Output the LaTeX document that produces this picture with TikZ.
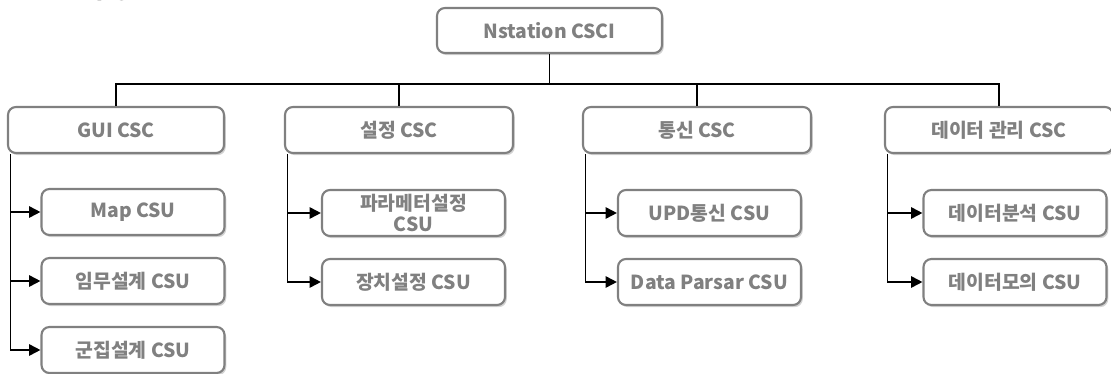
\documentclass[tikz,border=0pt]{standalone}
\usepackage{fontspec}
\setmainfont{Noto Sans CJK KR}
\usetikzlibrary{arrows.meta, shadows, calc}

\begin{document}
\begin{tikzpicture}[
    csc/.style={draw=gray, line width=1.2pt, rounded corners=4.5pt, fill=white, text=gray,
        font=\fontsize{11}{12}\selectfont\bfseries, minimum height=0.92cm, align=center,
        drop shadow={shadow xshift=1pt, shadow yshift=-1.2pt, opacity=0.35}},
    csu/.style={csc, minimum width=3.66cm},
    link/.style={line width=1pt},
    feed/.style={line width=1pt, -{Triangle[length=6.5pt, width=6.5pt]}}
]
    \useasboundingbox (0,0) rectangle (22.22,-7.48);

    % Title (cut off at the top)
    \node[anchor=base west, inner sep=0, font=\fontsize{13}{14}\selectfont\bfseries] (title) at (0,0.035) {프로그램 구성};

    % Top level
    \node[csc, minimum width=4.5cm, minimum height=0.9cm] (csci) at (10.99,-0.61) {Nstation CSCI};

    % CSC row
    \node[csc, minimum width=4.32cm] (gui) at (2.32,-2.6) {GUI CSC};
    \node[csc, minimum width=4.56cm] (set) at (7.98,-2.6) {설정 CSC};
    \node[csc, minimum width=4.56cm] (com) at (13.94,-2.6) {통신 CSC};
    \node[csc, minimum width=4.56cm] (dat) at (19.98,-2.6) {데이터 관리 CSC};

    % CSU boxes
    \node[csu] (map) at (2.66,-4.24) {Map CSU};
    \node[csu] (mis) at (2.66,-5.62) {임무설계 CSU};
    \node[csu] (swa) at (2.66,-7.0) {군집설계 CSU};
    \node[csu, font=\fontsize{11}{11.5}\selectfont\bfseries, inner sep=1pt] (par) at (8.27,-4.26) {파라메터설정\\CSU};
    \node[csu] (dev) at (8.27,-5.64) {장치설정 CSU};
    \node[csu] (udp) at (14.19,-4.26) {UPD통신 CSU};
    \node[csu] (prs) at (14.19,-5.64) {Data Parsar CSU};
    \node[csu] (ana) at (20.3,-4.26) {데이터분석 CSU};
    \node[csu] (sim) at (20.3,-5.64) {데이터모의 CSU};

    % Connectors
    \foreach \c in {gui,set,com,dat} \draw[link] (csci.south) -- ++(0,-0.6) -| (\c.north);
    \foreach \p/\u in {gui/map, gui/mis, gui/swa, set/par, set/dev, com/udp, com/prs, dat/ana, dat/sim}
        \draw[feed] ($(\p.south west)+(0.07,0)$) |- (\u.west);
\end{tikzpicture}
\end{document}
